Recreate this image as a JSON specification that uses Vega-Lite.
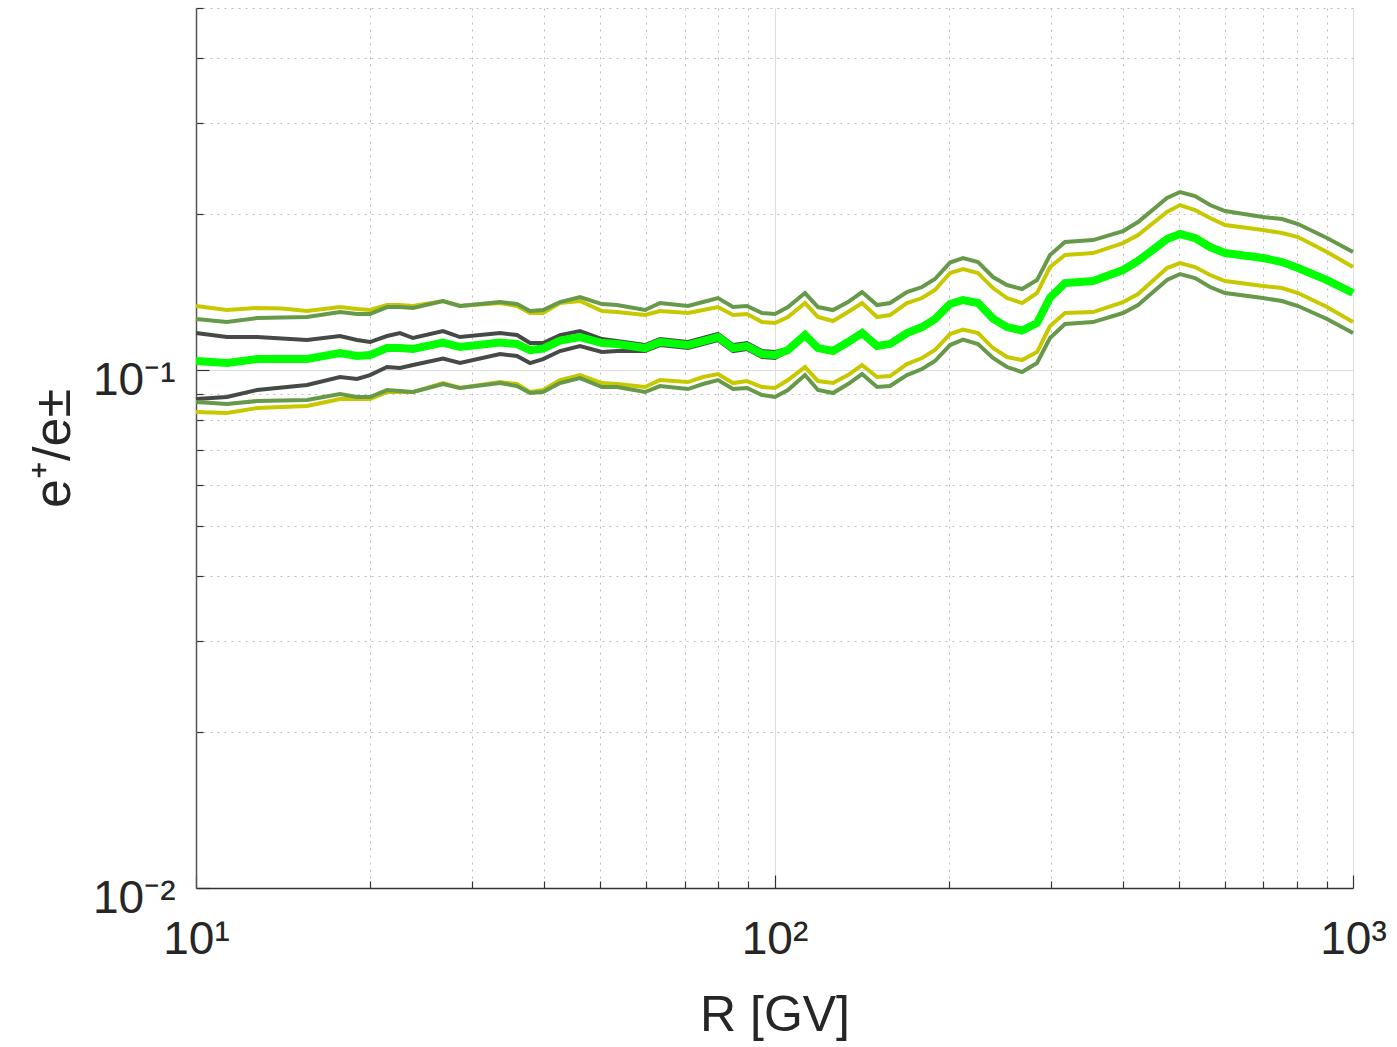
{
"$schema": "https://vega.github.io/schema/vega-lite/v6.json",
"width": 1157, "height": 880,
"autosize": {"type": "none"},
"padding": {"left": 196, "top": 8, "right": 44, "bottom": 159},
"background": "white",
"config": {"view": {"stroke": null}, "font": "Liberation Sans"},
"datasets": {
"yu": [{"R":10,"v":0.13291},{"R":11.31,"v":0.13057},{"R":12.75,"v":0.13173},{"R":14.08,"v":0.13144},{"R":15.56,"v":0.12999},{"R":17.74,"v":0.13232},{"R":18.98,"v":0.13115},{"R":19.99,"v":0.13057},{"R":21.39,"v":0.1335},{"R":22.52,"v":0.1335},{"R":23.72,"v":0.13291},{"R":26.73,"v":0.1359},{"R":28.6,"v":0.13291},{"R":33.54,"v":0.13469},{"R":35.88,"v":0.13291},{"R":37.79,"v":0.12884},{"R":39.8,"v":0.12884},{"R":42.58,"v":0.13469},{"R":46.11,"v":0.1359},{"R":50.33,"v":0.12999},{"R":53.43,"v":0.12941},{"R":59.72,"v":0.1277},{"R":63.4,"v":0.12999},{"R":70.87,"v":0.12884},{"R":75.23,"v":0.13057},{"R":79.86,"v":0.13232},{"R":84.78,"v":0.1277},{"R":89.63,"v":0.12827},{"R":95.15,"v":0.12378},{"R":100.2,"v":0.12324},{"R":105.5,"v":0.12657},{"R":112.9,"v":0.13469},{"R":118.9,"v":0.12657},{"R":126.2,"v":0.12434},{"R":134.0,"v":0.12941},{"R":141.7,"v":0.13469},{"R":150.4,"v":0.12657},{"R":158.4,"v":0.1277},{"R":169.4,"v":0.13469},{"R":179.9,"v":0.13772},{"R":189.4,"v":0.14271},{"R":201.1,"v":0.15391},{"R":211.8,"v":0.15667},{"R":224.8,"v":0.15391},{"R":238.6,"v":0.14398},{"R":252.3,"v":0.13772},{"R":267.8,"v":0.13469},{"R":284.3,"v":0.14082},{"R":299.4,"v":0.15807},{"R":317.8,"v":0.16673},{"R":355.3,"v":0.16822},{"R":400.4,"v":0.17586},{"R":425.0,"v":0.18223},{"R":477.0,"v":0.20185},{"R":502.4,"v":0.20823},{"R":533.3,"v":0.20365},{"R":566.1,"v":0.19654},{"R":600.9,"v":0.19051},{"R":698.9,"v":0.18633},{"R":753.9,"v":0.18386},{"R":803.4,"v":0.18062},{"R":901.7,"v":0.16897},{"R":1000,"v":0.15807}],
"yl": [{"R":10,"v":0.08297},{"R":11.31,"v":0.0826},{"R":12.75,"v":0.08446},{"R":14.08,"v":0.08483},{"R":15.56,"v":0.08521},{"R":17.74,"v":0.0879},{"R":18.98,"v":0.0879},{"R":19.99,"v":0.0879},{"R":21.39,"v":0.09068},{"R":22.52,"v":0.09068},{"R":23.72,"v":0.09068},{"R":26.73,"v":0.09438},{"R":28.6,"v":0.09231},{"R":33.54,"v":0.09481},{"R":35.88,"v":0.09397},{"R":37.79,"v":0.09068},{"R":39.8,"v":0.09149},{"R":42.58,"v":0.09565},{"R":46.11,"v":0.0978},{"R":50.33,"v":0.09438},{"R":53.43,"v":0.09397},{"R":59.72,"v":0.09272},{"R":63.4,"v":0.09565},{"R":70.87,"v":0.09481},{"R":75.23,"v":0.09694},{"R":79.86,"v":0.09824},{"R":84.78,"v":0.09438},{"R":89.63,"v":0.09523},{"R":95.15,"v":0.09272},{"R":100.2,"v":0.09231},{"R":105.5,"v":0.09565},{"R":112.9,"v":0.10134},{"R":118.9,"v":0.09523},{"R":126.2,"v":0.09438},{"R":134.0,"v":0.0978},{"R":141.7,"v":0.10225},{"R":150.4,"v":0.09694},{"R":158.4,"v":0.09737},{"R":169.4,"v":0.1027},{"R":179.9,"v":0.10548},{"R":189.4,"v":0.1093},{"R":201.1,"v":0.11735},{"R":211.8,"v":0.11972},{"R":224.8,"v":0.11788},{"R":238.6,"v":0.11027},{"R":252.3,"v":0.10595},{"R":267.8,"v":0.10455},{"R":284.3,"v":0.10833},{"R":299.4,"v":0.1216},{"R":317.8,"v":0.12884},{"R":355.3,"v":0.12941},{"R":400.4,"v":0.13529},{"R":425.0,"v":0.14019},{"R":477.0,"v":0.15737},{"R":502.4,"v":0.1609},{"R":533.3,"v":0.15807},{"R":566.1,"v":0.15255},{"R":600.9,"v":0.14853},{"R":698.9,"v":0.14527},{"R":753.9,"v":0.14398},{"R":803.4,"v":0.14082},{"R":901.7,"v":0.13232},{"R":1000,"v":0.12378}],
"gu": [{"R":10,"v":0.11788},{"R":11.31,"v":0.1158},{"R":12.75,"v":0.1158},{"R":14.08,"v":0.11503},{"R":15.56,"v":0.11427},{"R":17.74,"v":0.11632},{"R":18.98,"v":0.11427},{"R":19.99,"v":0.11325},{"R":21.39,"v":0.11632},{"R":22.52,"v":0.11788},{"R":23.72,"v":0.11529},{"R":26.73,"v":0.11893},{"R":28.6,"v":0.1158},{"R":33.54,"v":0.11788},{"R":35.88,"v":0.11683},{"R":37.79,"v":0.11275},{"R":39.8,"v":0.11275},{"R":42.58,"v":0.11683},{"R":46.11,"v":0.11893},{"R":50.33,"v":0.11478},{"R":53.43,"v":0.11376},{"R":59.72,"v":0.11175},{"R":63.4,"v":0.11478},{"R":70.87,"v":0.11325},{"R":75.23,"v":0.11529},{"R":79.86,"v":0.11735},{"R":84.78,"v":0.11175},{"R":89.63,"v":0.11275},{"R":95.15,"v":0.10881},{"R":100.2,"v":0.10833},{"R":105.5,"v":0.10979}],
"gl": [{"R":10,"v":0.0879},{"R":11.31,"v":0.08869},{"R":12.75,"v":0.09149},{"R":14.08,"v":0.09252},{"R":15.56,"v":0.09355},{"R":17.74,"v":0.09694},{"R":18.98,"v":0.09608},{"R":19.99,"v":0.0978},{"R":21.39,"v":0.10134},{"R":22.52,"v":0.10089},{"R":23.72,"v":0.10225},{"R":26.73,"v":0.10525},{"R":28.6,"v":0.10316},{"R":33.54,"v":0.10737},{"R":35.88,"v":0.10642},{"R":37.79,"v":0.10316},{"R":39.8,"v":0.10501},{"R":42.58,"v":0.10881},{"R":46.11,"v":0.11126},{"R":50.33,"v":0.10833},{"R":53.43,"v":0.10881},{"R":59.72,"v":0.10881},{"R":63.4,"v":0.11175},{"R":70.87,"v":0.11027},{"R":75.23,"v":0.11225},{"R":79.86,"v":0.11427},{"R":84.78,"v":0.10881},{"R":89.63,"v":0.10979},{"R":95.15,"v":0.10595},{"R":100.2,"v":0.10548},{"R":105.5,"v":0.10881}],
"ou": [{"R":10,"v":0.12545},{"R":11.31,"v":0.12378},{"R":12.75,"v":0.126},{"R":14.08,"v":0.12629},{"R":15.56,"v":0.12657},{"R":17.74,"v":0.12941},{"R":18.98,"v":0.12827},{"R":19.99,"v":0.12827},{"R":21.39,"v":0.13232},{"R":22.52,"v":0.13232},{"R":23.72,"v":0.13173},{"R":26.73,"v":0.1359},{"R":28.6,"v":0.13291},{"R":33.54,"v":0.13529},{"R":35.88,"v":0.1341},{"R":37.79,"v":0.12999},{"R":39.8,"v":0.13057},{"R":42.58,"v":0.13529},{"R":46.11,"v":0.13833},{"R":50.33,"v":0.1341},{"R":53.43,"v":0.1335},{"R":59.72,"v":0.13057},{"R":63.4,"v":0.13469},{"R":70.87,"v":0.13291},{"R":75.23,"v":0.13529},{"R":79.86,"v":0.13772},{"R":84.78,"v":0.13232},{"R":89.63,"v":0.13291},{"R":95.15,"v":0.12884},{"R":100.2,"v":0.12827},{"R":105.5,"v":0.13232},{"R":112.9,"v":0.14082},{"R":118.9,"v":0.13232},{"R":126.2,"v":0.13057},{"R":134.0,"v":0.13529},{"R":141.7,"v":0.14144},{"R":150.4,"v":0.1335},{"R":158.4,"v":0.13469},{"R":169.4,"v":0.14144},{"R":179.9,"v":0.14462},{"R":189.4,"v":0.14986},{"R":201.1,"v":0.16126},{"R":211.8,"v":0.16452},{"R":224.8,"v":0.16162},{"R":238.6,"v":0.1512},{"R":252.3,"v":0.14591},{"R":267.8,"v":0.14334},{"R":284.3,"v":0.14919},{"R":299.4,"v":0.16673},{"R":317.8,"v":0.17665},{"R":355.3,"v":0.17823},{"R":400.4,"v":0.1855},{"R":425.0,"v":0.19307},{"R":477.0,"v":0.21481},{"R":502.4,"v":0.22061},{"R":533.3,"v":0.21673},{"R":566.1,"v":0.20823},{"R":600.9,"v":0.20275},{"R":698.9,"v":0.19741},{"R":753.9,"v":0.19566},{"R":803.4,"v":0.19136},{"R":901.7,"v":0.17982},{"R":1000,"v":0.16897}],
"ol": [{"R":10,"v":0.08674},{"R":11.31,"v":0.08597},{"R":12.75,"v":0.08713},{"R":14.08,"v":0.08732},{"R":15.56,"v":0.08752},{"R":17.74,"v":0.08988},{"R":18.98,"v":0.08869},{"R":19.99,"v":0.08869},{"R":21.39,"v":0.09149},{"R":22.52,"v":0.09109},{"R":23.72,"v":0.09068},{"R":26.73,"v":0.09397},{"R":28.6,"v":0.09231},{"R":33.54,"v":0.09438},{"R":35.88,"v":0.09313},{"R":37.79,"v":0.09028},{"R":39.8,"v":0.09068},{"R":42.58,"v":0.09438},{"R":46.11,"v":0.09651},{"R":50.33,"v":0.09272},{"R":53.43,"v":0.09272},{"R":59.72,"v":0.09068},{"R":63.4,"v":0.09313},{"R":70.87,"v":0.0919},{"R":75.23,"v":0.09397},{"R":79.86,"v":0.09565},{"R":84.78,"v":0.0919},{"R":89.63,"v":0.09231},{"R":95.15,"v":0.08948},{"R":100.2,"v":0.08869},{"R":105.5,"v":0.09149},{"R":112.9,"v":0.0978},{"R":118.9,"v":0.09149},{"R":126.2,"v":0.09028},{"R":134.0,"v":0.09397},{"R":141.7,"v":0.09824},{"R":150.4,"v":0.09272},{"R":158.4,"v":0.09313},{"R":169.4,"v":0.0978},{"R":179.9,"v":0.10045},{"R":189.4,"v":0.10408},{"R":201.1,"v":0.11175},{"R":211.8,"v":0.11452},{"R":224.8,"v":0.11225},{"R":238.6,"v":0.10548},{"R":252.3,"v":0.10134},{"R":267.8,"v":0.09911},{"R":284.3,"v":0.10316},{"R":299.4,"v":0.11529},{"R":317.8,"v":0.12269},{"R":355.3,"v":0.12378},{"R":400.4,"v":0.12884},{"R":425.0,"v":0.1335},{"R":477.0,"v":0.14919},{"R":502.4,"v":0.15323},{"R":533.3,"v":0.15052},{"R":566.1,"v":0.14462},{"R":600.9,"v":0.14082},{"R":698.9,"v":0.13772},{"R":753.9,"v":0.1359},{"R":803.4,"v":0.13291},{"R":901.7,"v":0.12545},{"R":1000,"v":0.11788}],
"c": [{"R":10,"v":0.10408},{"R":11.31,"v":0.10316},{"R":12.75,"v":0.10501},{"R":14.08,"v":0.10501},{"R":15.56,"v":0.10501},{"R":17.74,"v":0.10785},{"R":18.98,"v":0.10642},{"R":19.99,"v":0.1069},{"R":21.39,"v":0.11027},{"R":22.52,"v":0.11027},{"R":23.72,"v":0.10979},{"R":26.73,"v":0.113},{"R":28.6,"v":0.11077},{"R":33.54,"v":0.113},{"R":35.88,"v":0.11225},{"R":37.79,"v":0.1093},{"R":39.8,"v":0.11003},{"R":42.58,"v":0.11401},{"R":46.11,"v":0.1158},{"R":50.33,"v":0.11275},{"R":53.43,"v":0.11225},{"R":59.72,"v":0.11027},{"R":63.4,"v":0.11325},{"R":70.87,"v":0.11175},{"R":75.23,"v":0.11376},{"R":79.86,"v":0.1158},{"R":84.78,"v":0.11027},{"R":89.63,"v":0.11126},{"R":95.15,"v":0.10737},{"R":100.2,"v":0.1069},{"R":105.5,"v":0.1093},{"R":112.9,"v":0.11683},{"R":118.9,"v":0.11027},{"R":126.2,"v":0.10881},{"R":134.0,"v":0.11325},{"R":141.7,"v":0.11788},{"R":150.4,"v":0.11126},{"R":158.4,"v":0.11225},{"R":169.4,"v":0.11788},{"R":179.9,"v":0.12106},{"R":189.4,"v":0.12545},{"R":201.1,"v":0.1341},{"R":211.8,"v":0.1365},{"R":224.8,"v":0.13469},{"R":238.6,"v":0.12572},{"R":252.3,"v":0.12106},{"R":267.8,"v":0.11919},{"R":284.3,"v":0.12324},{"R":299.4,"v":0.13803},{"R":317.8,"v":0.14722},{"R":355.3,"v":0.14853},{"R":400.4,"v":0.15597},{"R":425.0,"v":0.16234},{"R":477.0,"v":0.17902},{"R":502.4,"v":0.18304},{"R":533.3,"v":0.17982},{"R":566.1,"v":0.17277},{"R":600.9,"v":0.16822},{"R":698.9,"v":0.16452},{"R":753.9,"v":0.16162},{"R":803.4,"v":0.15737},{"R":901.7,"v":0.14919},{"R":1000,"v":0.14082}]
},
"encoding": {
 "x": {"field": "R", "type": "quantitative",
  "scale": {"type": "log", "domain": [10, 1000], "nice": false},
  "axis": {
   "values": [10,20,30,40,50,60,70,80,90,100,200,300,400,500,600,700,800,900,1000],
   "labelExpr": "datum.value == 10 ? '10¹' : datum.value == 100 ? '10²' : datum.value == 1000 ? '10³' : ''",
   "labelOverlap": false, "labelFlush": false,
   "grid": true,
   "gridColor": {"condition": {"test": "datum.value == 10 || datum.value == 100 || datum.value == 1000", "value": "#dddddd"}, "value": "#bdbdbd"},
   "gridDash": {"condition": {"test": "datum.value == 10 || datum.value == 100 || datum.value == 1000", "value": []}, "value": [2, 5]},
   "tickSize": {"condition": {"test": "datum.value == 10 || datum.value == 100 || datum.value == 1000", "value": -13}, "value": -7},
   "tickColor": "#333333", "tickWidth": 1.2,
   "domainColor": "#333333", "domainWidth": 1.5,
   "labelFont": "Liberation Sans", "labelFontSize": 46, "labelColor": "#262626", "labelPadding": 42,
   "title": "R [GV]", "titleFont": "Liberation Sans", "titleFontSize": 50, "titleFontWeight": "normal", "titleColor": "#262626", "titlePadding": 22
  }},
 "y": {"field": "v", "type": "quantitative",
  "scale": {"type": "log", "domain": [0.01, 0.5], "nice": false},
  "axis": {
   "values": [0.01,0.02,0.03,0.04,0.05,0.06,0.07,0.08,0.09,0.1,0.2,0.3,0.4,0.5],
   "labelExpr": "datum.value == 0.1 ? '10⁻¹' : datum.value == 0.01 ? '10⁻²' : ''",
   "labelOverlap": false, "labelFlush": false,
   "grid": true,
   "gridColor": {"condition": {"test": "datum.value == 0.1 || datum.value == 0.01", "value": "#dddddd"}, "value": "#bdbdbd"},
   "gridDash": {"condition": {"test": "datum.value == 0.1 || datum.value == 0.01", "value": []}, "value": [2, 5]},
   "tickSize": {"condition": {"test": "datum.value == 0.1 || datum.value == 0.01", "value": -13}, "value": -7},
   "tickColor": "#333333", "tickWidth": 1.2,
   "domainColor": "#555555", "domainWidth": 1.5,
   "labelFont": "Liberation Sans", "labelFontSize": 46, "labelColor": "#262626", "labelPadding": 34, "labelOffset": 10,
   "title": "e⁺/e±", "titleFont": "Liberation Sans", "titleFontSize": 52, "titleFontWeight": "normal", "titleColor": "#262626", "titlePadding": 12
  }}
},
"layer": [
 {"data": {"name": "yu"}, "mark": {"type": "line", "color": "#c8c800", "strokeWidth": 4}},
 {"data": {"name": "yl"}, "mark": {"type": "line", "color": "#c8c800", "strokeWidth": 4}},
 {"data": {"name": "gu"}, "mark": {"type": "line", "color": "#464a46", "strokeWidth": 4}},
 {"data": {"name": "gl"}, "mark": {"type": "line", "color": "#464a46", "strokeWidth": 4}},
 {"data": {"name": "ou"}, "mark": {"type": "line", "color": "#66994a", "strokeWidth": 4}},
 {"data": {"name": "ol"}, "mark": {"type": "line", "color": "#66994a", "strokeWidth": 4}},
 {"data": {"name": "c"}, "mark": {"type": "line", "color": "#00ff00", "strokeWidth": 8}}
]
}
